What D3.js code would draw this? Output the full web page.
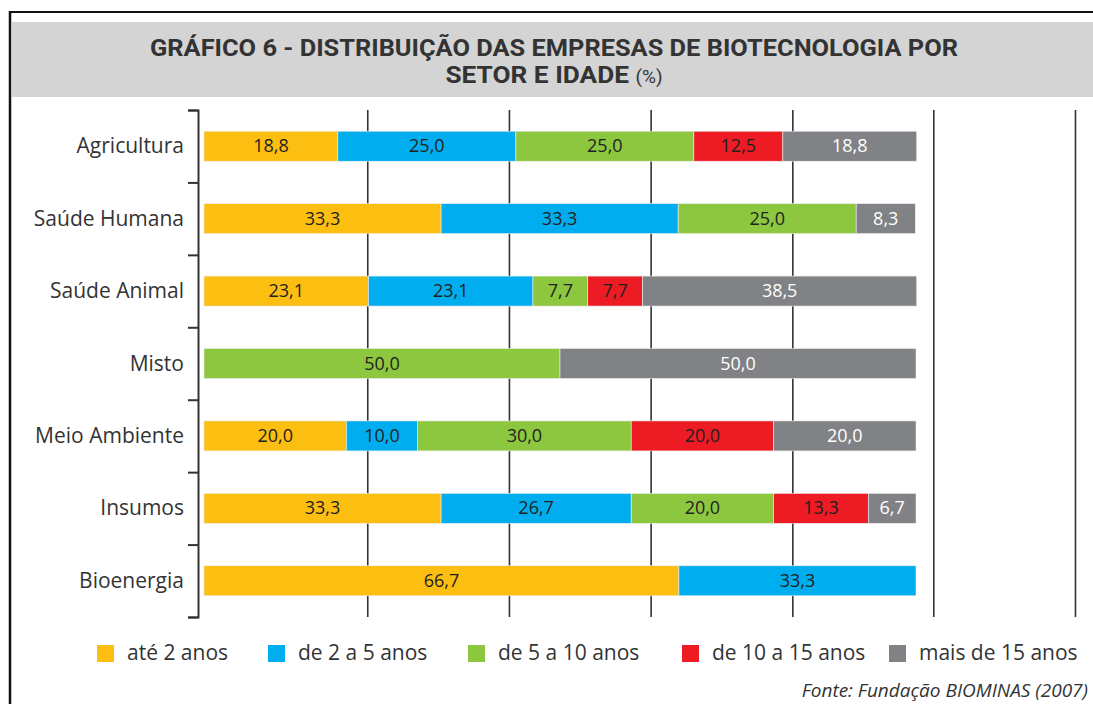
<!DOCTYPE html>
<html>
<head>
<meta charset="utf-8">
<script src="https://cdn.jsdelivr.net/npm/d3@7"></script>
<style>
  body { margin: 0; background: #fff; }
  svg { display: block; font-family: "Open Sans", sans-serif; }
</style>
</head>
<body>
<div id="chart"></div>
<script>
const width = 1093, height = 704;

// data
const sectors = ["Agricultura", "Saúde Humana", "Saúde Animal", "Misto", "Meio Ambiente", "Insumos", "Bioenergia"];
const ageGroups = ["até 2 anos", "de 2 a 5 anos", "de 5 a 10 anos", "de 10 a 15 anos", "mais de 15 anos"];
const ate2 =   [18.8, 33.3, 23.1, 0,    20.0, 33.3, 66.7];
const de2a5 =  [25.0, 33.3, 23.1, 0,    10.0, 26.7, 33.3];
const de5a10 = [25.0, 25.0, 7.7,  50.0, 30.0, 20.0, 0];
const de10a15 =[12.5, 0,    7.7,  0,    20.0, 13.3, 0];
const mais15 = [18.8, 8.3,  38.5, 50.0, 20.0, 6.7,  0];
const colors = ["#fdbe12", "#00aeef", "#8dc63f", "#ed1c24", "#808285"];
const gridValues = [23, 42.9, 62.8, 82.7, 102.5, 122.4];

const seriesValues = [ate2, de2a5, de5a10, de10a15, mais15];
const table = sectors.map((s, i) => {
  const row = { sector: s };
  ageGroups.forEach((g, k) => row[g] = seriesValues[k][i]);
  return row;
});

const svg = d3.select("#chart")
  .append("svg")
    .attr("width", width)
    .attr("height", height);

// frame + title band
svg.append("rect")
  .attr("x", 12).attr("y", 22)
  .attr("width", width - 12).attr("height", 75)
  .attr("fill", "#d4d4d5");
svg.append("line")
  .attr("x1", 10).attr("x2", width).attr("y1", 12).attr("y2", 12)
  .attr("stroke", "#111").attr("stroke-width", 2);
svg.append("line")
  .attr("x1", 10).attr("x2", 10).attr("y1", 11).attr("y2", height)
  .attr("stroke", "#111").attr("stroke-width", 2.5);

svg.append("text")
  .attr("x", 554).attr("y", 56)
  .attr("text-anchor", "middle")
  .attr("textLength", 808)
  .attr("lengthAdjust", "spacingAndGlyphs")
  .style("font-family", "Roboto, sans-serif")
  .style("font-weight", 700)
  .style("font-size", "23px")
  .attr("fill", "#333")
  .text("GRÁFICO 6 - DISTRIBUIÇÃO DAS EMPRESAS DE BIOTECNOLOGIA POR");
const t2 = svg.append("text")
  .attr("x", 554).attr("y", 83)
  .attr("text-anchor", "middle")
  .style("font-family", "Roboto, sans-serif")
  .style("font-size", "23px")
  .attr("fill", "#333");
t2.append("tspan").style("font-weight", 700).attr("textLength", 190)
  .attr("lengthAdjust", "spacingAndGlyphs").text("SETOR E IDADE ");
t2.append("tspan").style("font-weight", 400).style("font-size", "19px").text("(%)");

// scales
const xScale = d3.scaleLinear().domain([0, 100]).range([204, 916]);
const yEdge = d3.scaleLinear().domain([0, sectors.length]).range([110, 617]);
const yScale = d3.scaleBand().domain(sectors).range([110, 617]).paddingInner(0);
const barH = 30;

// grid
svg.append("g")
    .attr("class", "grid")
  .selectAll("line")
  .data(gridValues)
  .join("line")
    .attr("x1", d => xScale(d)).attr("x2", d => xScale(d))
    .attr("y1", 110).attr("y2", 617)
    .attr("stroke", "#333").attr("stroke-width", 1.6);

// left axis with ticks between categories
const leftAxis = d3.axisLeft(yEdge)
  .tickValues(d3.range(0, sectors.length + 1))
  .tickSize(10)
  .tickFormat("");
const axisG = svg.append("g")
    .attr("class", "axis")
    .attr("transform", "translate(198, 0)")
    .call(leftAxis);
axisG.selectAll("line, path").attr("stroke", "#333").attr("stroke-width", 2);

svg.append("g")
  .selectAll("text")
  .data(sectors)
  .join("text")
    .attr("x", 184)
    .attr("y", d => yScale(d) + yScale.bandwidth() / 2 + 7)
    .attr("text-anchor", "end")
    .style("font-size", "21px")
    .attr("fill", "#333")
    .text(d => d);

// stacked bars
const stack = d3.stack().keys(ageGroups);
const series = stack(table);

const groups = svg.append("g")
    .attr("class", "bars")
  .selectAll("g")
  .data(series)
  .join("g")
    .attr("fill", (d, i) => colors[i]);

groups.selectAll("rect")
  .data(d => d.filter(p => p[1] - p[0] > 0))
  .join("rect")
    .attr("x", d => xScale(d[0]))
    .attr("width", d => xScale(d[1]) - xScale(d[0]))
    .attr("y", d => yScale(d.data.sector) + yScale.bandwidth() / 2 - barH / 2)
    .attr("height", barH)
    .attr("stroke", "#eee")
    .attr("stroke-width", 0.6);

groups.each(function(s, i) {
  d3.select(this).selectAll("text")
    .data(s.filter(p => p[1] - p[0] > 0))
    .join("text")
      .attr("x", d => (xScale(d[0]) + xScale(d[1])) / 2)
      .attr("y", d => yScale(d.data.sector) + yScale.bandwidth() / 2 + 6)
      .attr("text-anchor", "middle")
      .style("font-size", "18px")
      .attr("fill", i === 4 ? "#fff" : "#231f20")
      .text(d => d3.format(".1f")(d[1] - d[0]).replace(".", ","));
});

// legend
const legendX = [97, 268, 468, 682, 889];
const legend = svg.append("g")
  .selectAll("g")
  .data(ageGroups)
  .join("g")
    .attr("transform", (d, i) => `translate(${legendX[i]}, 645)`);
legend.append("rect")
  .attr("width", 17).attr("height", 17)
  .attr("fill", (d, i) => colors[i]);
legend.append("text")
  .attr("x", 30).attr("y", 15)
  .style("font-size", "21px")
  .attr("fill", "#333")
  .text(d => d);

svg.append("text")
  .attr("x", 1088).attr("y", 697)
  .attr("text-anchor", "end")
  .style("font-size", "19px")
  .style("font-style", "italic")
  .attr("fill", "#333")
  .text("Fonte: Fundação BIOMINAS (2007)");
</script>
</body>
</html>
